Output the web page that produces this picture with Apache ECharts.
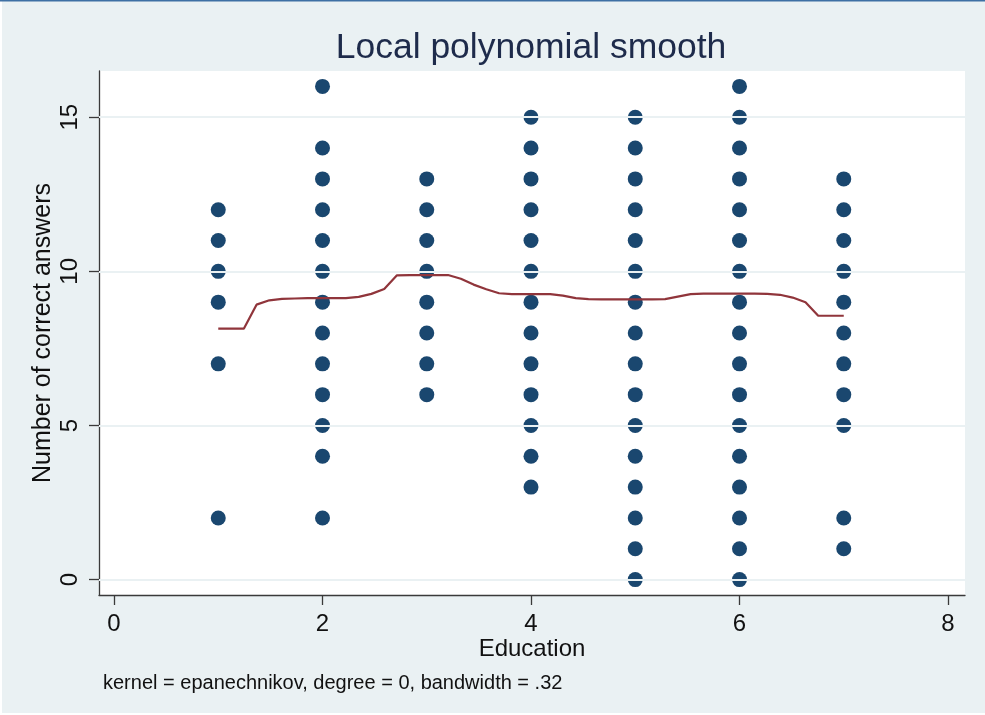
<!DOCTYPE html>
<html>
<head>
<meta charset="utf-8">
<title>Local polynomial smooth</title>
<script src="https://cdn.jsdelivr.net/npm/echarts@6/dist/echarts.min.js"></script>
<style>
  html, body { margin: 0; padding: 0; background: #ffffff; }
  #chart { width: 985px; height: 715px; }
</style>
</head>
<body>
<div id="chart"></div>
<script>
// Education level (x) and the observed scores at each level
const educationLevels = [1, 2, 3, 4, 5, 6, 7];
const scoresAtLevel1 = [12, 11, 10, 9, 7, 2];
const scoresAtLevel2 = [16, 14, 13, 12, 11, 10, 9, 8, 7, 6, 5, 4, 2];
const scoresAtLevel3 = [13, 12, 11, 10, 9, 8, 7, 6];
const scoresAtLevel4 = [15, 14, 13, 12, 11, 10, 9, 8, 7, 6, 5, 4, 3];
const scoresAtLevel5 = [15, 14, 13, 12, 11, 10, 9, 8, 7, 6, 5, 4, 3, 2, 1, 0];
const scoresAtLevel6 = [16, 15, 14, 13, 12, 11, 10, 9, 8, 7, 6, 5, 4, 3, 2, 1, 0];
const scoresAtLevel7 = [13, 12, 11, 10, 9, 8, 7, 6, 5, 2, 1];

// Smoothed curve: evaluation points and fitted values
const smoothX = [
  1.000, 1.122, 1.245, 1.367, 1.490, 1.612, 1.735, 1.857, 1.980, 2.102,
  2.224, 2.347, 2.469, 2.592, 2.714, 2.837, 2.959, 3.082, 3.204, 3.327,
  3.449, 3.571, 3.694, 3.816, 3.939, 4.061, 4.184, 4.306, 4.429, 4.551,
  4.673, 4.796, 4.918, 5.041, 5.163, 5.286, 5.408, 5.531, 5.653, 5.776,
  5.898, 6.020, 6.143, 6.265, 6.388, 6.510, 6.633, 6.755, 6.878, 7.000
];
const smoothY = [
  8.14, 8.14, 8.14, 8.92, 9.06, 9.11, 9.12, 9.13, 9.13, 9.13,
  9.13, 9.17, 9.27, 9.43, 9.87, 9.88, 9.88, 9.88, 9.88, 9.76,
  9.57, 9.42, 9.29, 9.26, 9.26, 9.26, 9.26, 9.21, 9.13, 9.10,
  9.09, 9.09, 9.09, 9.09, 9.09, 9.10, 9.18, 9.26, 9.28, 9.28,
  9.28, 9.28, 9.28, 9.27, 9.24, 9.15, 9.00, 8.56, 8.56, 8.56
];

// Axis ticks
const xTicks = [0, 2, 4, 6, 8];
const yTicks = [0, 5, 10, 15];

const scoresByLevel = [scoresAtLevel1, scoresAtLevel2, scoresAtLevel3, scoresAtLevel4,
                       scoresAtLevel5, scoresAtLevel6, scoresAtLevel7];
const scatterData = [];
educationLevels.forEach(function (lvl, i) {
  scoresByLevel[i].forEach(function (s) { scatterData.push([lvl, s]); });
});
const smoothData = smoothX.map(function (x, i) { return [x, smoothY[i]]; });

const FONT = '"Liberation Sans", Arial, "DejaVu Sans", sans-serif';
const AXIS_COLOR = '#3a3a3a';
const BG = '#eaf1f3';

const chart = echarts.init(document.getElementById('chart'), null, { renderer: 'canvas' });

chart.setOption({
  backgroundColor: BG,
  animation: false,
  textStyle: { fontFamily: FONT },
  graphic: [
    { type: 'rect', shape: { x: 0, y: 0, width: 2, height: 715 }, style: { fill: '#ffffff' }, silent: true },
    { type: 'rect', shape: { x: 0, y: 713, width: 985, height: 2 }, style: { fill: '#ffffff' }, silent: true },
    { type: 'rect', shape: { x: 0, y: 0, width: 985, height: 1.5 }, style: { fill: '#3e70a4' }, silent: true },
    {
      type: 'text', x: 531, y: 48, silent: true,
      style: {
        text: 'Local polynomial smooth', font: '35.5px ' + FONT,
        fill: '#1e2b4b', textAlign: 'center', textVerticalAlign: 'middle'
      }
    },
    {
      type: 'text', x: 103, y: 683, silent: true,
      style: {
        text: 'kernel = epanechnikov, degree = 0, bandwidth = .32', font: '20px ' + FONT,
        fill: '#111111', textAlign: 'left', textVerticalAlign: 'middle'
      }
    }
  ],
  grid: {
    left: 99, right: 20, top: 71, bottom: 120,
    show: true, backgroundColor: '#ffffff', borderWidth: 0
  },
  xAxis: {
    type: 'value',
    min: -0.144, max: 8.163,
    name: 'Education',
    nameLocation: 'middle',
    nameGap: 42,
    nameMoveOverlap: false,
    nameTextStyle: { fontSize: 24, color: '#111111', fontFamily: FONT },
    axisLine: { show: true, onZero: false, lineStyle: { color: AXIS_COLOR, width: 1.3 } },
    axisTick: { show: true, length: 10, customValues: xTicks, lineStyle: { color: AXIS_COLOR, width: 1.3 } },
    axisLabel: { customValues: xTicks, fontSize: 24, color: '#111111', margin: 17, fontFamily: FONT },
    splitLine: { show: false }
  },
  yAxis: {
    type: 'value',
    min: -0.5, max: 16.5,
    name: 'Number of correct answers',
    nameLocation: 'middle',
    nameGap: 43,
    nameMoveOverlap: false,
    nameRotate: 90,
    nameTextStyle: { fontSize: 25, color: '#111111', fontFamily: FONT },
    axisLine: { show: true, onZero: false, lineStyle: { color: AXIS_COLOR, width: 1.3 } },
    axisTick: { show: true, length: 10, customValues: yTicks, lineStyle: { color: AXIS_COLOR, width: 1.3 } },
    axisLabel: { customValues: yTicks, rotate: 90, fontSize: 24, color: '#111111', margin: 17, fontFamily: FONT },
    splitLine: { show: false }
  },
  series: [
    {
      // horizontal reference lines at the y ticks
      type: 'line',
      data: [],
      silent: true,
      z: 1,
      markLine: {
        silent: true,
        symbol: 'none',
        label: { show: false },
        emphasis: { disabled: true },
        lineStyle: { color: '#eaf1f3', width: 2, type: 'solid', opacity: 1 },
        data: yTicks.map(function (v) { return { yAxis: v }; })
      }
    },
    {
      type: 'scatter',
      data: scatterData,
      symbol: 'circle',
      symbolSize: 15,
      itemStyle: { color: '#1a476f', opacity: 1 },
      z: 3
    },
    {
      type: 'line',
      data: smoothData,
      showSymbol: false,
      symbol: 'none',
      lineStyle: { color: '#90353b', width: 2.2 },
      z: 4
    }
  ]
});
</script>
</body>
</html>
